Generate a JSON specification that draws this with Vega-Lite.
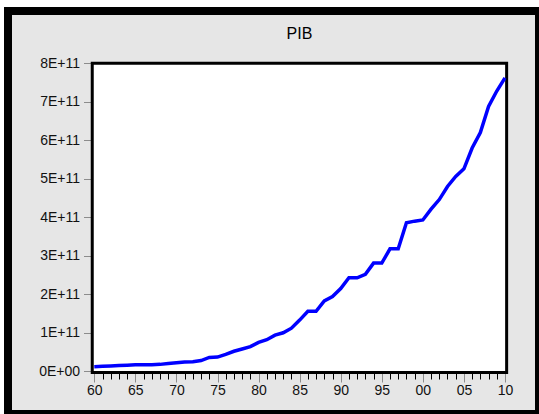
{
  "$schema": "https://vega.github.io/schema/vega-lite/v6.json",
  "width": 531,
  "height": 403,
  "autosize": {"type": "none"},
  "padding": {"left": 8, "top": 11, "right": 0, "bottom": 0},
  "background": "white",
  "config": {
    "view": {"fill": "#e6e6e6", "stroke": "#000000", "strokeWidth": 8},
    "font": "Liberation Sans"
  },
  "title": {
    "text": "PIB",
    "font": "Liberation Sans",
    "fontSize": 16,
    "fontWeight": "normal",
    "color": "#000000",
    "anchor": "middle",
    "baseline": "alphabetic",
    "offset": 0,
    "dx": 26,
    "dy": 43.5
  },
  "data": {
    "values": [
      {"year": 1960, "pib": 1.2e10}, {"year": 1961, "pib": 1.3e10}, {"year": 1962, "pib": 1.4e10},
      {"year": 1963, "pib": 1.5e10}, {"year": 1964, "pib": 1.6e10}, {"year": 1965, "pib": 1.7e10},
      {"year": 1966, "pib": 1.7e10}, {"year": 1967, "pib": 1.7e10}, {"year": 1968, "pib": 1.8e10},
      {"year": 1969, "pib": 2.0e10}, {"year": 1970, "pib": 2.2e10}, {"year": 1971, "pib": 2.4e10},
      {"year": 1972, "pib": 2.5e10}, {"year": 1973, "pib": 2.8e10}, {"year": 1974, "pib": 3.6e10},
      {"year": 1975, "pib": 3.7e10}, {"year": 1976, "pib": 4.4e10}, {"year": 1977, "pib": 5.2e10},
      {"year": 1978, "pib": 5.8e10}, {"year": 1979, "pib": 6.4e10}, {"year": 1980, "pib": 7.5e10},
      {"year": 1981, "pib": 8.2e10}, {"year": 1982, "pib": 9.4e10}, {"year": 1983, "pib": 1.0e11},
      {"year": 1984, "pib": 1.12e11}, {"year": 1985, "pib": 1.33e11}, {"year": 1986, "pib": 1.56e11},
      {"year": 1987, "pib": 1.56e11}, {"year": 1988, "pib": 1.83e11}, {"year": 1989, "pib": 1.94e11},
      {"year": 1990, "pib": 2.15e11}, {"year": 1991, "pib": 2.43e11}, {"year": 1992, "pib": 2.43e11},
      {"year": 1993, "pib": 2.52e11}, {"year": 1994, "pib": 2.81e11}, {"year": 1995, "pib": 2.81e11},
      {"year": 1996, "pib": 3.18e11}, {"year": 1997, "pib": 3.18e11}, {"year": 1998, "pib": 3.86e11},
      {"year": 1999, "pib": 3.90e11}, {"year": 2000, "pib": 3.93e11}, {"year": 2001, "pib": 4.21e11},
      {"year": 2002, "pib": 4.46e11}, {"year": 2003, "pib": 4.80e11}, {"year": 2004, "pib": 5.06e11},
      {"year": 2005, "pib": 5.26e11}, {"year": 2006, "pib": 5.80e11}, {"year": 2007, "pib": 6.20e11},
      {"year": 2008, "pib": 6.88e11}, {"year": 2009, "pib": 7.28e11}, {"year": 2010, "pib": 7.62e11}
    ]
  },
  "layer": [
    {
      "data": {"values": [{}]},
      "mark": {"type": "rect", "fill": "white", "stroke": "black", "strokeWidth": 3, "clip": false},
      "encoding": {
        "x": {
          "datum": 1959.75,
          "type": "quantitative",
          "scale": {"domain": [1949.494, 2014.14], "nice": false, "zero": false},
          "axis": {
            "orient": "bottom",
            "values": [1960,1961,1962,1963,1964,1965,1966,1967,1968,1969,1970,1971,1972,1973,1974,1975,1976,1977,1978,1979,1980,1981,1982,1983,1984,1985,1986,1987,1988,1989,1990,1991,1992,1993,1994,1995,1996,1997,1998,1999,2000,2001,2002,2003,2004,2005,2006,2007,2008,2009,2010],
            "labels": false,
            "domain": false,
            "grid": false,
            "title": null,
            "tickColor": "#000000",
            "tickSize": 6,
            "tickWidth": 1,
            "offset": -41
          }
        },
        "x2": {"datum": 2010.2},
        "y": {
          "datum": -3e9,
          "type": "quantitative",
          "scale": {"domain": [-1.109e11, 9.358e11], "nice": false, "zero": false},
          "axis": {
            "orient": "left",
            "values": [0, 1e11, 2e11, 3e11, 4e11, 5e11, 6e11, 7e11, 8e11],
            "labelExpr": "datum.value == 0 ? '0E+00' : format(datum.value / 1e11, 'd') + 'E+11'",
            "domain": false,
            "grid": false,
            "title": null,
            "tickColor": "#8c8c8c",
            "tickSize": 9,
            "tickWidth": 1,
            "labelFont": "Liberation Sans",
            "labelFontSize": 14,
            "labelColor": "#111111",
            "labelPadding": 4,
            "offset": -84.5
          }
        },
        "y2": {"datum": 8e11}
      }
    },
    {
      "mark": {"type": "line", "color": "#0000ff", "strokeWidth": 3.5, "clip": false},
      "encoding": {
        "x": {
          "field": "year",
          "type": "quantitative",
          "axis": {
            "orient": "bottom",
            "values": [1960, 1965, 1970, 1975, 1980, 1985, 1990, 1995, 2000, 2005, 2010],
            "labelExpr": "substring(toString(datum.value), 2, 4)",
            "domain": false,
            "grid": false,
            "title": null,
            "tickColor": "#8c8c8c",
            "tickSize": 9,
            "tickWidth": 1,
            "labelFont": "Liberation Sans",
            "labelFontSize": 14,
            "labelColor": "#111111",
            "labelPadding": 1,
            "labelFlush": false,
            "labelOverlap": false,
            "offset": -41
          }
        },
        "y": {
          "field": "pib",
          "type": "quantitative",
          "axis": {
            "orient": "left",
            "values": [0, 1e11, 2e11, 3e11, 4e11, 5e11, 6e11, 7e11, 8e11],
            "labelExpr": "datum.value == 0 ? '0E+00' : format(datum.value / 1e11, 'd') + 'E+11'",
            "domain": false,
            "grid": false,
            "title": null,
            "tickColor": "#8c8c8c",
            "tickSize": 9,
            "tickWidth": 1,
            "labelFont": "Liberation Sans",
            "labelFontSize": 14,
            "labelColor": "#111111",
            "labelPadding": 4,
            "offset": -84.5
          }
        }
      }
    }
  ],
  "resolve": {"axis": {"x": "independent"}}
}
